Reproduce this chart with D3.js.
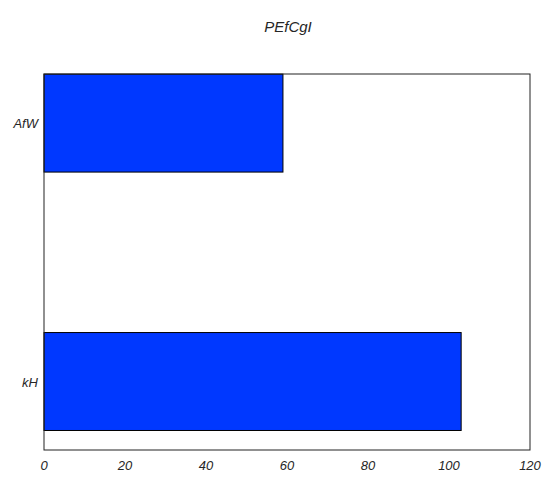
<!DOCTYPE html>
<html><head><meta charset="utf-8">
<script src="https://cdn.jsdelivr.net/npm/d3@7"></script>
<style>body{margin:0;background:#fff}text{font-family:"Liberation Sans",Arial,sans-serif;font-style:italic}</style>
</head><body><svg id="chart" width="552" height="483"></svg>
<script>
let categories = ["kH", "AfW"]
let values = [103, 59]
let xTicks = [0, 20, 40, 60, 80, 100, 120]

let svg = d3.select("#chart")
let plotLeft = 44, plotRight = 530, plotTop = 74, plotBottom = 450

let x = d3.scaleLinear().domain([0, 120]).range([plotLeft, plotRight])
let y = d3.scaleLinear().domain([-0.265, 1.19]).range([plotBottom, plotTop])
let barH = 0.379

svg.selectAll("rect.bar")
  .data(values)
  .enter()
  .append("rect")
    .attr("class", "bar")
    .attr("x", x(0))
    .attr("y", (d, i) => y(i + barH / 2))
    .attr("width", d => x(d) - x(0))
    .attr("height", y(0) - y(barH))
    .attr("fill", "#0038ff")
    .attr("stroke", "#000")
    .attr("stroke-width", 1)

svg.append("rect")
  .attr("x", plotLeft).attr("y", plotTop)
  .attr("width", plotRight - plotLeft).attr("height", plotBottom - plotTop)
  .attr("fill", "none").attr("stroke", "#222").attr("stroke-width", 1)

svg.selectAll("text.xt")
  .data(xTicks)
  .enter()
  .append("text")
    .attr("class", "xt")
    .attr("x", d => x(d))
    .attr("y", plotBottom + 20)
    .attr("text-anchor", "middle")
    .attr("font-size", 13)
    .attr("fill", "#262626")
    .text(d => d)

svg.selectAll("text.yt")
  .data(categories)
  .enter()
  .append("text")
    .attr("class", "yt")
    .attr("x", plotLeft - 6)
    .attr("y", (d, i) => y(i) + 5)
    .attr("text-anchor", "end")
    .attr("font-size", 13)
    .attr("fill", "#262626")
    .text(d => d)

svg.append("text")
  .attr("x", 288).attr("y", 32)
  .attr("text-anchor", "middle")
  .attr("font-size", 15)
  .attr("fill", "#262626")
  .text("PEfCgI")
</script></body></html>
